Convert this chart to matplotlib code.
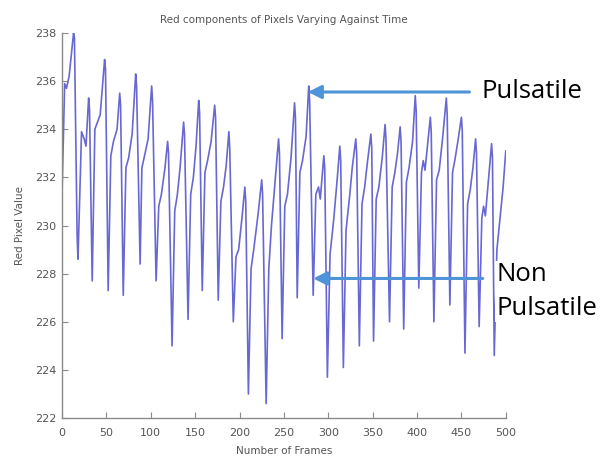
import matplotlib
matplotlib.use("Agg")
import matplotlib.pyplot as plt

# Red channel value of the tracked pixel region, frame by frame (key samples)
frames = [0, 3, 5, 8, 13, 14, 17, 18, 22, 25, 27, 30, 31, 34, 37, 40, 43, 48, 49, 52,
          55, 58, 62, 65, 66, 69, 72, 75, 79, 83, 84, 88, 90, 93, 97, 101, 102, 106,
          109, 112, 116, 119, 120, 124, 127, 130, 133, 137, 138, 142, 145, 148, 151,
          154, 155, 158, 161, 164, 168, 172, 173, 176, 179, 182, 185, 188, 189, 193,
          196, 199, 203, 206, 207, 210, 213, 216, 221, 225, 226, 230, 233, 236, 240,
          244, 245, 248, 251, 254, 258, 262, 263, 265, 268, 271, 275, 278, 279, 283,
          286, 289, 291, 295, 296, 299, 302, 306, 310, 313, 314, 317, 320, 324, 327,
          331, 332, 335, 338, 341, 344, 348, 349, 351, 354, 357, 361, 364, 365, 369,
          372, 375, 378, 381, 382, 385, 388, 391, 395, 398, 399, 402, 405, 407, 409,
          412, 415, 416, 419, 422, 425, 429, 433, 434, 437, 440, 443, 446, 450, 451,
          454, 457, 460, 463, 466, 467, 470, 473, 475, 477, 480, 484, 485, 487, 490,
          494, 497, 500]
red_values = [231.3, 235.9, 235.7, 236.2, 238.0, 237.8, 229.6, 228.6, 233.9, 233.6,
              233.3, 235.3, 234.8, 227.7, 234.0, 234.3, 234.6, 236.9, 236.5, 227.3,
              232.9, 233.5, 234.0, 235.5, 235.0, 227.1, 232.4, 232.8, 233.8, 236.3,
              235.8, 228.4, 232.4, 232.9, 233.6, 235.8, 235.2, 227.7, 230.8, 231.3,
              232.4, 233.5, 233.0, 225.0, 230.6, 231.3, 232.4, 234.3, 233.8, 226.1,
              231.3, 232.0, 233.3, 235.2, 234.7, 227.3, 232.2, 232.7, 233.5, 235.0,
              234.5, 226.9, 231.0, 231.6, 232.5, 233.9, 233.2, 226.0, 228.7, 229.0,
              230.4, 231.6, 231.0, 223.0, 228.2, 229.0, 230.5, 231.9, 231.3, 222.6,
              228.2, 230.0, 231.8, 233.6, 233.0, 225.3, 230.8, 231.3, 232.8, 235.1,
              234.5, 227.0, 232.2, 232.7, 233.7, 235.8, 235.2, 227.1, 231.3, 231.6,
              231.1, 232.9, 232.4, 223.7, 228.8, 230.2, 231.9, 233.3, 232.7, 224.1,
              229.8, 231.2, 232.4, 233.6, 233.0, 225.0, 230.9, 231.6, 232.6, 233.8,
              233.2, 225.2, 231.1, 231.6, 232.9, 234.2, 233.6, 226.0, 231.6, 232.2,
              233.0, 234.1, 233.5, 225.7, 231.8, 232.4, 233.5, 235.4, 234.8, 227.4,
              232.2, 232.7, 232.3, 233.4, 234.5, 233.9, 226.0, 231.9, 232.3, 233.7,
              235.3, 234.6, 226.7, 232.2, 232.8, 233.5, 234.5, 233.9, 224.7, 230.9,
              231.5, 232.4, 233.6, 233.0, 225.8, 230.3, 230.8, 230.4, 231.7, 233.4,
              232.8, 224.6, 229.0, 230.5, 231.6, 233.1]

x_ticks = [0, 50, 100, 150, 200, 250, 300, 350, 400, 450, 500]
y_ticks = [222, 224, 226, 228, 230, 232, 234, 236, 238]

# Annotated features: (label, arrow head frame, arrow tail frame, level)
pulsatile = ("Pulsatile", 277, 459, 235.55)
non_pulsatile = ("Non\nPulsatile", 283, 474, 227.8)

fig = plt.figure(figsize=(6.05, 4.59), dpi=100)
ax = fig.add_axes([0.1025, 0.0893, 0.7335, 0.8387])

ax.plot(frames, red_values, color="#6868d2", lw=1.2)

ax.set_xlim(0, 500)
ax.set_ylim(222, 238)
ax.set_xticks(x_ticks)
ax.set_yticks(y_ticks)

for side in ("top", "right"):
    ax.spines[side].set_visible(False)
for side in ("left", "bottom"):
    ax.spines[side].set_color("#8a8a8a")
    ax.spines[side].set_linewidth(1.0)

ax.tick_params(direction="in", length=4, width=0.8, color="#8a8a8a",
               labelsize=8, labelcolor="#555555")
ax.tick_params(axis="x", pad=7)
ax.tick_params(axis="y", pad=4)

label_font = dict(fontsize=7.5, color="#555555")
ax.set_title("Red components of Pixels Varying Against Time", pad=7, **label_font)
ax.set_xlabel("Number of Frames", labelpad=6, **label_font)
ax.set_ylabel("Red Pixel Value", labelpad=7, **label_font)

arrow_style = dict(arrowstyle="-|>", color="#4d95d8", lw=2.2, mutation_scale=20,
                   shrinkA=0, shrinkB=0)

# Pulsatile arrow and label
label, head, tail, level = pulsatile
ax.annotate("", xy=(head, level), xytext=(tail, level), arrowprops=arrow_style,
            annotation_clip=False)
ax.text(tail + 14, level, label, fontsize=18.5, family="Open Sans", color="black",
        ha="left", va="center", clip_on=False)

# Non pulsatile arrow and label
label, head, tail, level = non_pulsatile
ax.annotate("", xy=(head, level), xytext=(tail, level), arrowprops=arrow_style,
            annotation_clip=False)
ax.text(tail + 15, level - 0.55, label, fontsize=18.5, family="Open Sans", color="black",
        ha="left", va="center", linespacing=1.45, clip_on=False, zorder=5,
        bbox=dict(facecolor="white", edgecolor="none", pad=1))

fig.savefig("out.png", dpi=100)
